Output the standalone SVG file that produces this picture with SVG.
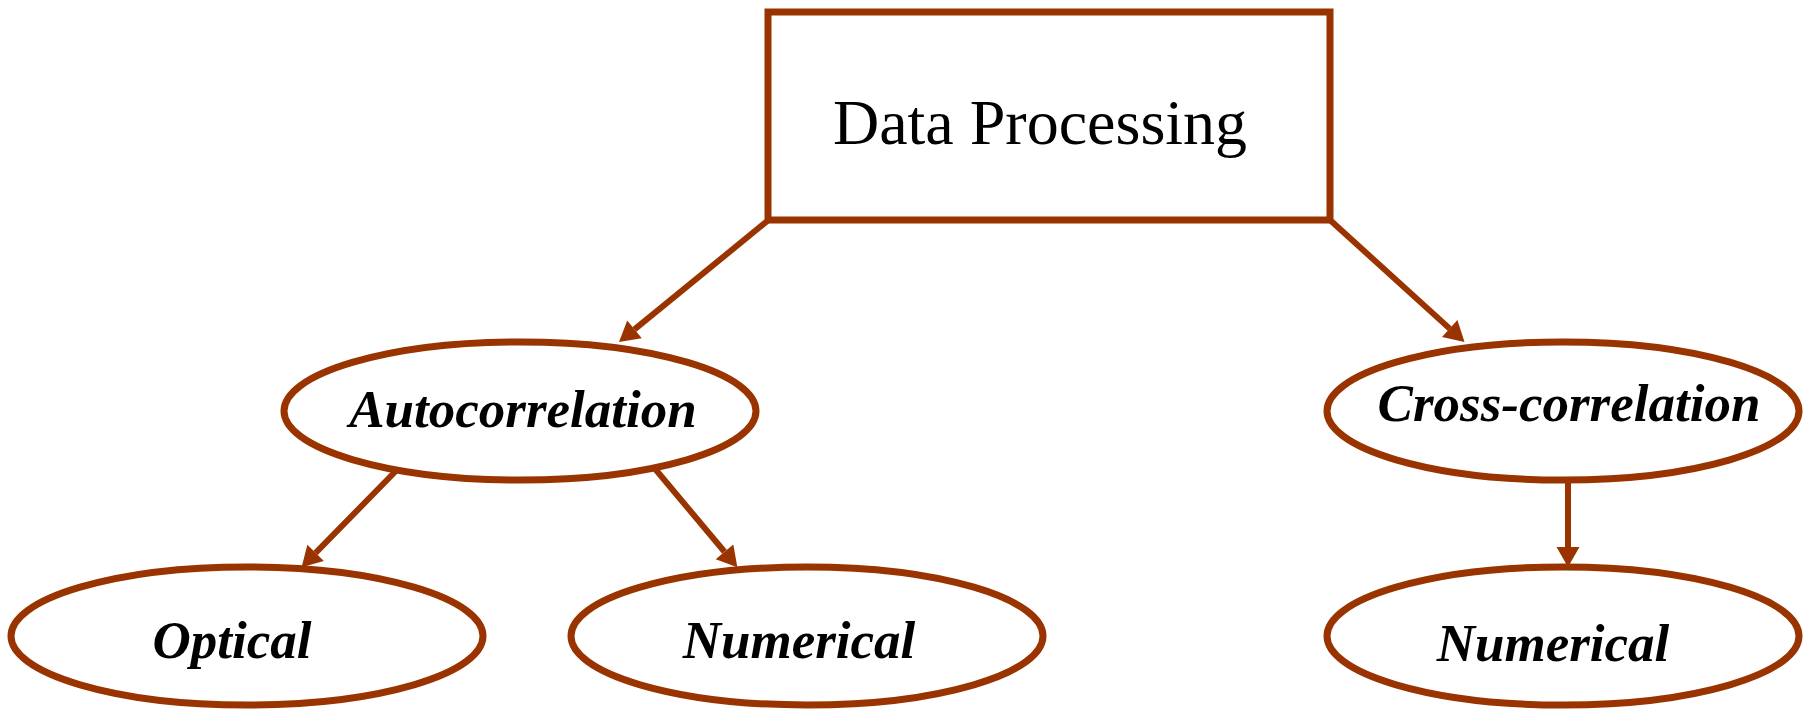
<svg xmlns="http://www.w3.org/2000/svg" width="1804" height="709" viewBox="0 0 1804 709">
<defs>
<style>
.box{fill:#ffffff;stroke:#993300;stroke-width:7}
.conn{fill:none;stroke:#993300;stroke-width:6}
.t1{font-family:"Liberation Serif",serif;font-size:64px;fill:#000;text-anchor:middle}
.t2{font-family:"Liberation Serif",serif;font-size:53px;font-weight:bold;font-style:italic;fill:#000;text-anchor:middle}
</style>
<marker id="ah" markerUnits="userSpaceOnUse" markerWidth="22" markerHeight="24" refX="0" refY="12" orient="auto" overflow="visible">
<path d="M0,0.5 L20,12 L0,23.5 z" fill="#993300"/>
</marker>
</defs>
<rect width="1804" height="709" fill="#ffffff"/>
<g id="connectors">
<line class="conn" x1="768.5" y1="220" x2="634.5" y2="329.4" marker-end="url(#ah)"/>
<line class="conn" x1="1330" y1="220" x2="1449.7" y2="328.6" marker-end="url(#ah)"/>
<line class="conn" x1="402.7" y1="464" x2="315.6" y2="552.9" marker-end="url(#ah)"/>
<line class="conn" x1="651" y1="464" x2="724.5" y2="551.8" marker-end="url(#ah)"/>
<line class="conn" x1="1568" y1="481" x2="1568" y2="547" marker-end="url(#ah)"/>
</g>
<g id="data-processing">
<rect class="box" x="768" y="12" width="562" height="208"/>
<text class="t1" x="1040" y="144">Data Processing</text>
</g>
<g id="autocorrelation">
<ellipse class="box" cx="520" cy="411" rx="236" ry="69"/>
<text class="t2" x="523" y="427">Autocorrelation</text>
</g>
<g id="cross-correlation">
<ellipse class="box" cx="1563" cy="411" rx="236" ry="69"/>
<text class="t2" x="1569" y="421">Cross-correlation</text>
</g>
<g id="optical">
<ellipse class="box" cx="247" cy="636" rx="236" ry="69"/>
<text class="t2" x="232" y="658">Optical</text>
</g>
<g id="numerical-left">
<ellipse class="box" cx="807" cy="636" rx="236" ry="69"/>
<text class="t2" x="799" y="658">Numerical</text>
</g>
<g id="numerical-right">
<ellipse class="box" cx="1563" cy="636" rx="236" ry="69"/>
<text class="t2" x="1553" y="661">Numerical</text>
</g>
</svg>
